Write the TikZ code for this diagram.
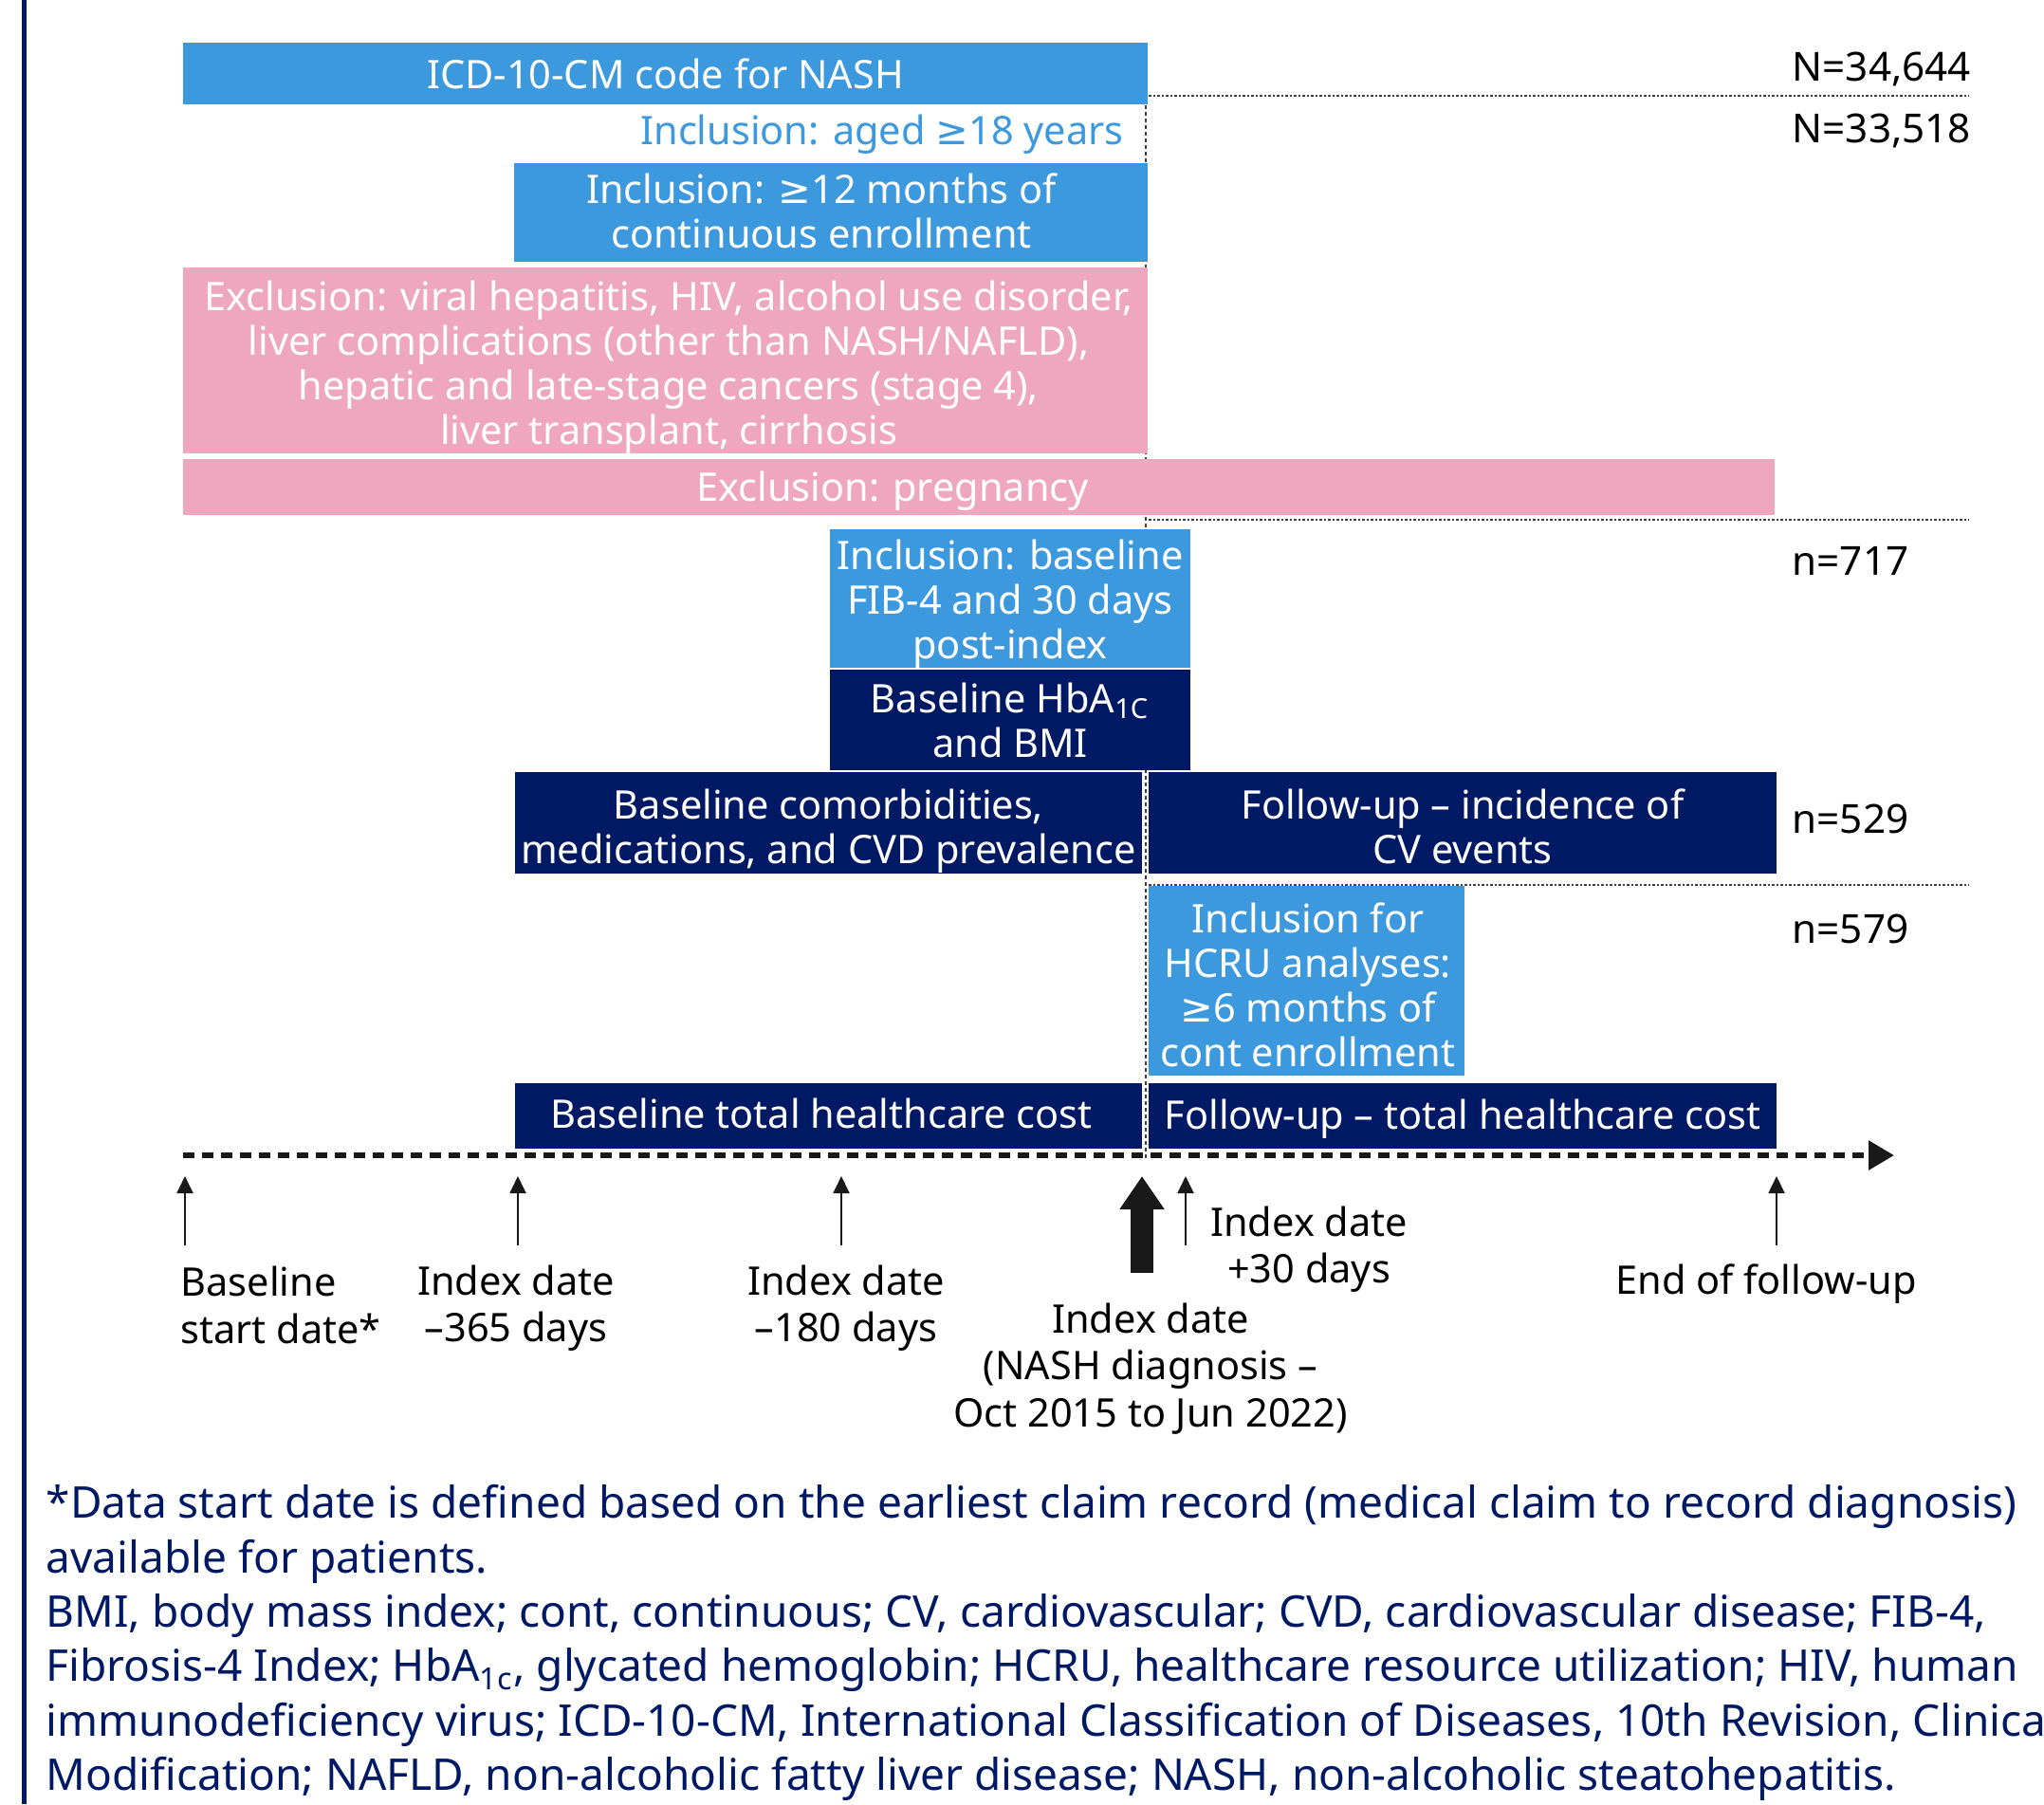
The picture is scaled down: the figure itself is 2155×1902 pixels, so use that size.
\documentclass[tikz,border=0pt]{standalone}
\usepackage{fontspec}
\setmainfont{Noto Sans}
\newfontfamily\symfont{DejaVu Sans}
\newcommand\atleast{{\symfont ≥}}
\usepackage{tikz}
\usetikzlibrary{arrows.meta}
\definecolor{nashblue}{HTML}{3D99DD}
\definecolor{nashnavy}{HTML}{001965}
\definecolor{nashpink}{HTML}{EEA7BE}

\begin{document}
\begin{tikzpicture}[x=0.1mm, y=-0.1mm,
  every node/.style={inner sep=0pt, font=\fontsize{11.8}{13.4}\selectfont},
  bar/.style={rectangle},
  bluebar/.style={bar, fill=nashblue},
  navybar/.style={bar, fill=nashnavy},
  pinkbar/.style={bar, fill=nashpink},
  bartext/.style={text=white, align=center},
  count/.style={anchor=west, font=\fontsize{12}{13.4}\selectfont},
  when/.style={align=center, font=\fontsize{11.8}{14.1}\selectfont},
  tick/.style={line width=0.2mm, black!90, -{Triangle[length=1.8mm, width=1.7mm]}},
  guide/.style={black!75, line width=0.2mm, dash pattern=on 0.25mm off 0.2mm}]
\clip (0,0) rectangle (2155,1902);
\fill[white] (0,0) rectangle (2155,1902);
\draw[nashnavy, line width=0.5mm] (25,0) -- (25,1902);

\draw[guide, dash pattern=on 0.4mm off 0.3mm] (1208,111) -- (1208,1222);
\draw[guide] (1211,101) -- (2076,101);
\draw[guide] (1211,548) -- (2076,548);
\draw[guide] (1211,933) -- (2076,933);

\node[bluebar, minimum width=101.7mm, minimum height=6.5mm] (icd) at (701.5,77.5) {};
\node[bartext] (icdtext) at (701.5,77.5) {ICD-10-CM code for NASH};
\node[anchor=east, text=nashblue] (aged) at (1185,142) {Inclusion: aged \atleast18 years};
\node[bluebar, minimum width=66.8mm, minimum height=10.4mm] (enrol) at (876,224) {};
\node[bartext] (enroltext) at (866,222) {Inclusion: \atleast12 months of\\continuous enrollment};
\node[pinkbar, minimum width=101.7mm, minimum height=19.6mm] (excl) at (701.5,380) {};
\node[bartext] (excltext) at (705,387) {Exclusion: viral hepatitis, HIV, alcohol use disorder,\\liver complications (other than NASH/NAFLD),\\hepatic and late-stage cancers (stage 4),\\liver transplant, cirrhosis};
\node[pinkbar, minimum width=167.8mm, minimum height=5.9mm] (preg) at (1032,513.5) {};
\node[bartext] (pregtext) at (941,517.5) {Exclusion: pregnancy};
\node[bluebar, minimum width=38mm, minimum height=14.6mm] (fib) at (1065,631) {};
\node[bartext] (fibtext) at (1065,636.5) {Inclusion: baseline\\FIB-4 and 30 days\\post-index};
\node[navybar, minimum width=38mm, minimum height=10.6mm] (hba) at (1065,759) {};
\node[bartext] (hbatext) at (1065,759) {Baseline HbA\textsubscript{1C}\\and BMI};
\node[navybar, minimum width=66.1mm, minimum height=10.7mm] (comorb) at (873.5,867.5) {};
\node[bartext] (comorbtext) at (873.5,876.5) {Baseline comorbidities,\\medications, and CVD prevalence};
\node[navybar, minimum width=66.2mm, minimum height=10.7mm] (cvfu) at (1542,867.5) {};
\node[bartext] (cvfutext) at (1542,871) {Follow-up – incidence of\\CV events};
\node[bluebar, minimum width=33.3mm, minimum height=20mm] (hcru) at (1377.5,1034) {};
\node[bartext] (hcrutext) at (1379,1038) {Inclusion for\\HCRU analyses:\\\atleast6 months of\\cont enrollment};
\node[navybar, minimum width=66.1mm, minimum height=6.9mm] (costbase) at (873.5,1176.5) {};
\node[bartext] (costbasetext) at (866,1173.5) {Baseline total healthcare cost};
\node[navybar, minimum width=66.2mm, minimum height=6.9mm] (costfu) at (1542,1176.5) {};
\node[bartext] (costfutext) at (1542,1179.5) {Follow-up – total healthcare cost};

\node[count] (n1) at (1889,73) {N=34,644};
\node[count] (n2) at (1889,138) {N=33,518};
\node[count] (n3) at (1889,591) {n=717};
\node[count] (n4) at (1889,863) {n=529};
\node[count] (n5) at (1889,979) {n=579};

\coordinate (tstart) at (193,1218);
\coordinate (tend) at (1997,1218);
\draw[black!90, line width=0.6mm, dash pattern=on 1.2mm off 0.8mm, -{Triangle[length=2.7mm, width=3mm]}] (tstart) -- (tend);

\foreach \x/\n in {195/0, 546/1, 887/2, 1250/4, 1873/5} {
  \coordinate (b\n) at (\x,1313);
  \coordinate (t\n) at (\x,1240);
  \draw[tick] (b\n) -- (t\n);
}
\coordinate (b3) at (1204,1342);
\coordinate (t3) at (1204,1240);
\draw[black!90, line width=2.4mm, -{Triangle[length=3.5mm, width=4.5mm]}] (b3) -- (t3);

\node[when, align=left, anchor=west] (lbase) at (190,1376) {Baseline\\start date*};
\node[when] (l365) at (544,1379) {Index date\\–365 days};
\node[when] (l180) at (892,1379) {Index date\\–180 days};
\node[when] (lindex) at (1213,1443) {Index date\\(NASH diagnosis –\\Oct 2015 to Jun 2022)};
\node[when] (l30) at (1380,1317) {Index date\\+30 days};
\node[when] (lend) at (1862,1354) {End of follow-up};

\node[anchor=north west, align=left, text=nashnavy, font=\fontsize{13.1}{16.3}\selectfont] (notes) at (48,1565) {*Data start date is defined based on the earliest claim record (medical claim to record diagnosis)\\available for patients.\\BMI, body mass index; cont, continuous; CV, cardiovascular; CVD, cardiovascular disease; FIB-4,\\Fibrosis-4 Index; HbA\textsubscript{1c}, glycated hemoglobin; HCRU, healthcare resource utilization; HIV, human\\immunodeficiency virus; ICD-10-CM, International Classification of Diseases, 10th Revision, Clinical\\Modification; NAFLD, non-alcoholic fatty liver disease; NASH, non-alcoholic steatohepatitis.};
\end{tikzpicture}
\end{document}
